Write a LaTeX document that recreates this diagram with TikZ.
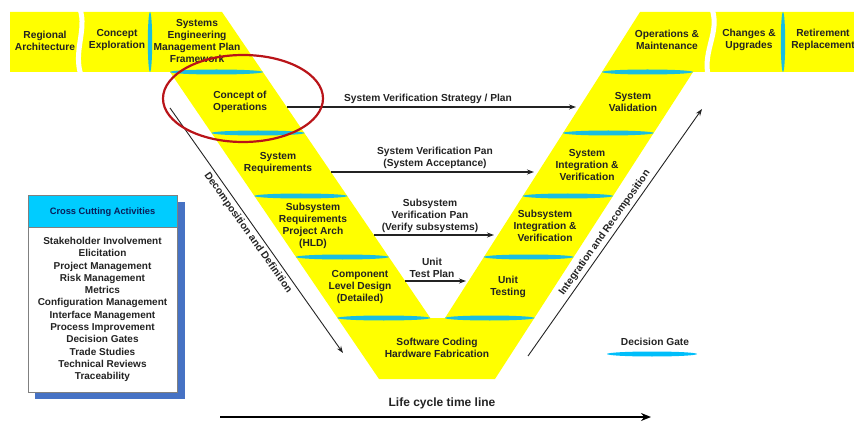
\documentclass[tikz,border=0pt]{standalone}
\usepackage{fontspec}
\setmainfont{Liberation Sans}
\usetikzlibrary{arrows.meta}
\definecolor{vyellow}{RGB}{255,255,0}
\definecolor{gatecyan}{RGB}{25,190,225}
\definecolor{legcyan}{RGB}{0,190,250}
\definecolor{hdrcyan}{RGB}{0,204,255}
\definecolor{shadowblue}{RGB}{70,114,196}
\definecolor{navy}{RGB}{10,30,90}
\definecolor{txt}{RGB}{35,35,35}
\definecolor{ringred}{RGB}{185,20,25}
\begin{document}
\begin{tikzpicture}[x=1pt,y=-1pt,
  lbl/.style={font=\fontsize{10.2}{12}\selectfont\bfseries, text=txt, align=center, inner sep=0pt},
  itm/.style={font=\fontsize{10}{12.3}\selectfont\bfseries, text=txt, align=center, inner sep=0pt},
  gate/.style={fill=gatecyan},
  flow/.style={draw=txt, line width=1.1pt, -{Stealth[length=7pt,width=5pt]}},
  diag/.style={draw=txt, line width=0.9pt, -{Stealth[length=7pt,width=5pt]}},
  gap/.style={draw=white, line width=5pt}
]
\useasboundingbox (0,0) rectangle (854,422);
\begin{scope}
\clip (0,0) rectangle (854,422);
% V band
\fill[vyellow] (10,12) -- (222,12) -- (430.3,318) -- (445,318) -- (602,72) -- (640,12)
  -- (860,12) -- (860,72) -- (693,72) -- (495,379) -- (379,379) -- (170,72) -- (10,72) -- cycle;
% wavy gaps between top panels
\draw[gap] (80,9) .. controls (87,30) and (73,52) .. (81,75);
\draw[gap] (712,9) .. controls (720,32) and (703,50) .. (708,75);
% vertical gates
\fill[gate] (150,42) ellipse [x radius=2.2, y radius=30];
\fill[gate] (783,42) ellipse [x radius=2.2, y radius=30];
% horizontal gates, left arm
\fill[gate] (216.5,72) ellipse [x radius=46.5, y radius=2.5];
\fill[gate] (258,133) ellipse [x radius=46.5, y radius=2.5];
\fill[gate] (300.8,196) ellipse [x radius=46.5, y radius=2.5];
\fill[gate] (342.3,257) ellipse [x radius=46.5, y radius=2.5];
\fill[gate] (383.8,318) ellipse [x radius=46.5, y radius=2.5];
% horizontal gates, right arm
\fill[gate] (647.5,72) ellipse [x radius=45.5, y radius=2.5];
\fill[gate] (608.3,133) ellipse [x radius=45.4, y radius=2.5];
\fill[gate] (567.8,196) ellipse [x radius=45.2, y radius=2.5];
\fill[gate] (528.6,257) ellipse [x radius=45, y radius=2.5];
\fill[gate] (489.7,318) ellipse [x radius=44.8, y radius=2.5];
% top panel texts
\node[lbl] (ra) at (45,41) {Regional\\Architecture};
\node[lbl] (ce) at (117,40) {Concept\\Exploration};
\node[lbl] (semp) at (197,41) {Systems\\Engineering\\Management Plan\\Framework};
\node[lbl] (om) at (667,40) {Operations \&\\Maintenance};
\node[lbl] (cu) at (749,40) {Changes \&\\Upgrades};
\node[lbl] (rr) at (823,40) {Retirement\\Replacement};
% left arm texts
\node[lbl] (conops) at (240,102) {Concept of\\Operations};
\node[lbl] (sysreq) at (278,163) {System\\Requirements};
\node[lbl] (subreq) at (313,226) {Subsystem\\Requirements\\Project Arch\\(HLD)};
\node[lbl] (comp) at (360,287) {Component\\Level Design\\(Detailed)};
\node[lbl] (code) at (437,348) {Software Coding\\Hardware Fabrication};
% right arm texts
\node[lbl] (sval) at (633,102) {System\\Validation};
\node[lbl] (siv) at (587,165) {System\\Integration \&\\Verification};
\node[lbl] (ssiv) at (545,226) {Subsystem\\Integration \&\\Verification};
\node[lbl] (ut) at (508,287) {Unit\\Testing};
% horizontal arrows
\coordinate (a1s) at (286.8,107); \coordinate (a1e) at (576,107);
\coordinate (a2s) at (331,172);   \coordinate (a2e) at (534,172);
\coordinate (a3s) at (373.8,235); \coordinate (a3e) at (494,235);
\coordinate (a4s) at (405,281);   \coordinate (a4e) at (466,281);
\draw[flow] (a1s) -- (a1e);
\draw[flow] (a2s) -- (a2e);
\draw[flow] (a3s) -- (a3e);
\draw[flow] (a4s) -- (a4e);
\node[lbl] (l1) at (428,99) {System Verification Strategy / Plan};
\node[lbl] (l2) at (435,158) {System Verification Pan\\(System Acceptance)};
\node[lbl] (l3) at (430,216) {Subsystem\\Verification Pan\\(Verify subsystems)};
\node[lbl] (l4) at (432,268) {Unit\\Test Plan};
% diagonal arrows
\coordinate (dds) at (170,108); \coordinate (dde) at (343,353);
\draw[diag] (dds) -- node[lbl, sloped, below=3pt, pos=0.49] (ddl) {Decomposition and Definition} (dde);
\coordinate (irs) at (528,356); \coordinate (ire) at (702,109);
\draw[diag] (irs) -- node[lbl, sloped, above=3pt, pos=0.48] (irl) {Integration and Recomposition} (ire);
% red ring
\draw[ringred, line width=2.2pt] (243,98.5) ellipse [x radius=80, y radius=43.5];
% cross cutting box
\fill[shadowblue] (35,202) rectangle (185,399);
\draw[gray, fill=white, line width=0.6pt] (28,195) rectangle (177,392);
\draw[gray, fill=hdrcyan, line width=0.6pt] (28,195) rectangle (177,227);
\node[itm, text=navy, font=\fontsize{9.3}{11}\selectfont\bfseries] (cch) at (102.5,212) {Cross Cutting Activities};
\node[itm, anchor=north] (cci) at (102.5,237) {Stakeholder Involvement\\Elicitation\\Project Management\\Risk Management\\Metrics\\Configuration Management\\Interface Management\\Process Improvement\\Decision Gates\\Trade Studies\\Technical Reviews\\Traceability};
% legend
\node[lbl] (dg) at (655,342) {Decision Gate};
\fill[legcyan] (652,354) ellipse [x radius=45, y radius=2.5];
% life cycle
\node[lbl, font=\fontsize{12}{14}\selectfont\bfseries] (lc) at (442,403) {Life cycle time line};
\coordinate (lcs) at (220,417); \coordinate (lce) at (651,417);
\draw[black, line width=2.2pt, -{Stealth[length=10pt,width=8pt]}] (lcs) -- (lce);
\end{scope}
\end{tikzpicture}
\end{document}
